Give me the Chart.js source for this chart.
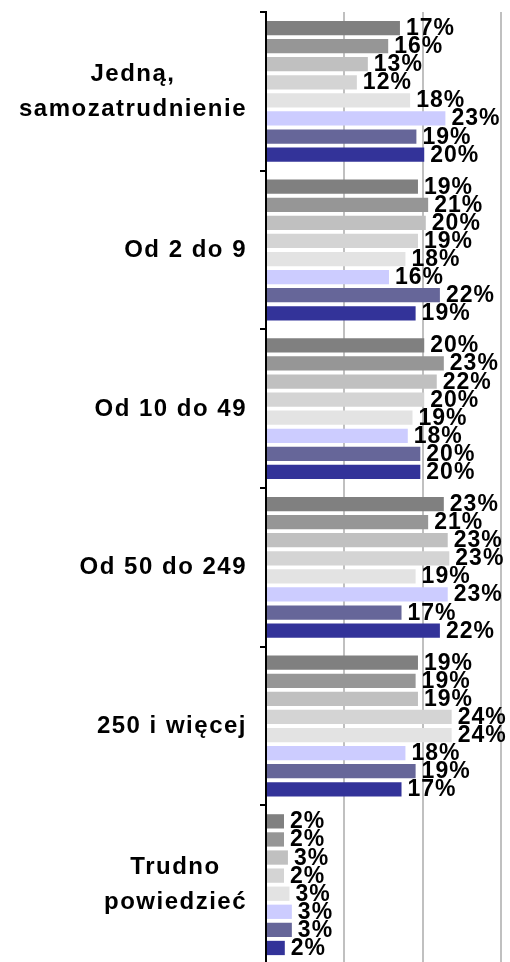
<!DOCTYPE html>
<html lang="pl">
<head>
<meta charset="UTF-8">
<title>Wielkość firmy</title>
<script src="https://cdn.jsdelivr.net/npm/chart.js@4"></script>
<style>
  html, body { margin: 0; padding: 0; background: #fff; overflow: hidden; }
  canvas { display: block; }
</style>
</head>
<body>
<canvas id="wykres" width="510" height="964"></canvas>
<script>
// kategorie (osie) i wartosci serii w %
var kategorie = [
  ['Jedną,', 'samozatrudnienie'],
  ['Od 2 do 9'],
  ['Od 10 do 49'],
  ['Od 50 do 249'],
  ['250 i więcej'],
  ['Trudno', 'powiedzieć']
];
var seria1 = [17.1, 19.4, 20.2, 22.7, 19.4, 2.3];
var seria2 = [15.6, 20.7, 22.7, 20.7, 19.1, 2.3];
var seria3 = [13.0, 20.4, 21.8, 23.2, 19.4, 2.8];
var seria4 = [11.6, 19.4, 20.2, 23.4, 23.7, 2.3];
var seria5 = [18.4, 17.8, 18.7, 19.1, 23.7, 3.0];
var seria6 = [22.9, 15.7, 18.1, 23.2, 17.8, 3.3];
var seria7 = [19.2, 22.2, 19.7, 17.3, 19.1, 3.3];
var seria8 = [20.2, 19.1, 19.7, 22.2, 17.3, 2.4];
var nazwySerii = ['Seria 1', 'Seria 2', 'Seria 3', 'Seria 4', 'Seria 5', 'Seria 6', 'Seria 7', 'Seria 8'];

var kolory = ['#808080', '#969696', '#c0c0c0', '#d4d4d4', '#e3e3e3', '#ccccff', '#666699', '#333399'];
var czcionka = '"Liberation Sans", Arial, sans-serif';

var serie = [seria1, seria2, seria3, seria4, seria5, seria6, seria7, seria8];

// etykiety wartosci + etykiety kategorii rysowane recznie
var etykiety = {
  id: 'etykiety',
  afterDatasetsDraw: function (chart) {
    var ctx = chart.ctx;
    ctx.save();
    ctx.font = 'bold 23px ' + czcionka;
    ctx.fillStyle = '#000';
    ctx.textAlign = 'left';
    ctx.textBaseline = 'alphabetic';
    ctx.letterSpacing = '1px';
    chart.data.datasets.forEach(function (ds, i) {
      chart.getDatasetMeta(i).data.forEach(function (bar, j) {
        ctx.fillText(Math.round(ds.data[j]) + '%', bar.x + 6, bar.y + 7);
      });
    });
    ctx.restore();
  },
  afterDraw: function (chart) {
    var ctx = chart.ctx;
    var skala = chart.scales.y;
    ctx.save();
    ctx.font = 'bold 24px ' + czcionka;
    ctx.fillStyle = '#000';
    ctx.textAlign = 'center';
    ctx.textBaseline = 'alphabetic';
    ctx.letterSpacing = '1.5px';
    var prawa = chart.chartArea.left - 19;
    chart.data.labels.forEach(function (lab, i) {
      var linie = [].concat(lab);
      var szer = Math.max.apply(null, linie.map(function (l) { return ctx.measureText(l).width; }));
      var srodek = skala.getPixelForValue(i);
      var baza = srodek - (linie.length - 1) * 35 / 2 + 7;
      linie.forEach(function (l, k) {
        ctx.fillText(l, prawa - szer / 2, baza + k * 35);
      });
    });
    ctx.restore();
  }
};

var ctx = document.getElementById('wykres').getContext('2d');
new Chart(ctx, {
  type: 'bar',
  data: {
    labels: kategorie,
    datasets: serie.map(function (s, i) {
      return {
        label: nazwySerii[i],
        data: s,
        backgroundColor: kolory[i],
        borderWidth: 0,
        categoryPercentage: 0.912,
        barPercentage: 0.79
      };
    })
  },
  options: {
    indexAxis: 'y',
    responsive: false,
    animation: false,
    layout: { padding: { left: 260, right: 9, top: 12, bottom: 0 } },
    plugins: {
      legend: { display: false },
      tooltip: { enabled: false }
    },
    scales: {
      x: {
        min: 0,
        max: 30,
        ticks: { display: false, stepSize: 10 },
        grid: {
          color: function (c) { return c.tick && c.tick.value === 0 ? 'rgba(0,0,0,0)' : '#c0c0c0'; },
          lineWidth: 2,
          drawTicks: false
        },
        border: { display: false }
      },
      y: {
        ticks: { display: false },
        grid: {
          drawOnChartArea: false,
          drawTicks: true,
          tickLength: 6,
          color: '#000',
          lineWidth: 2
        },
        border: { display: true, color: '#000', width: 2 }
      }
    }
  },
  plugins: [etykiety]
});
</script>
</body>
</html>
